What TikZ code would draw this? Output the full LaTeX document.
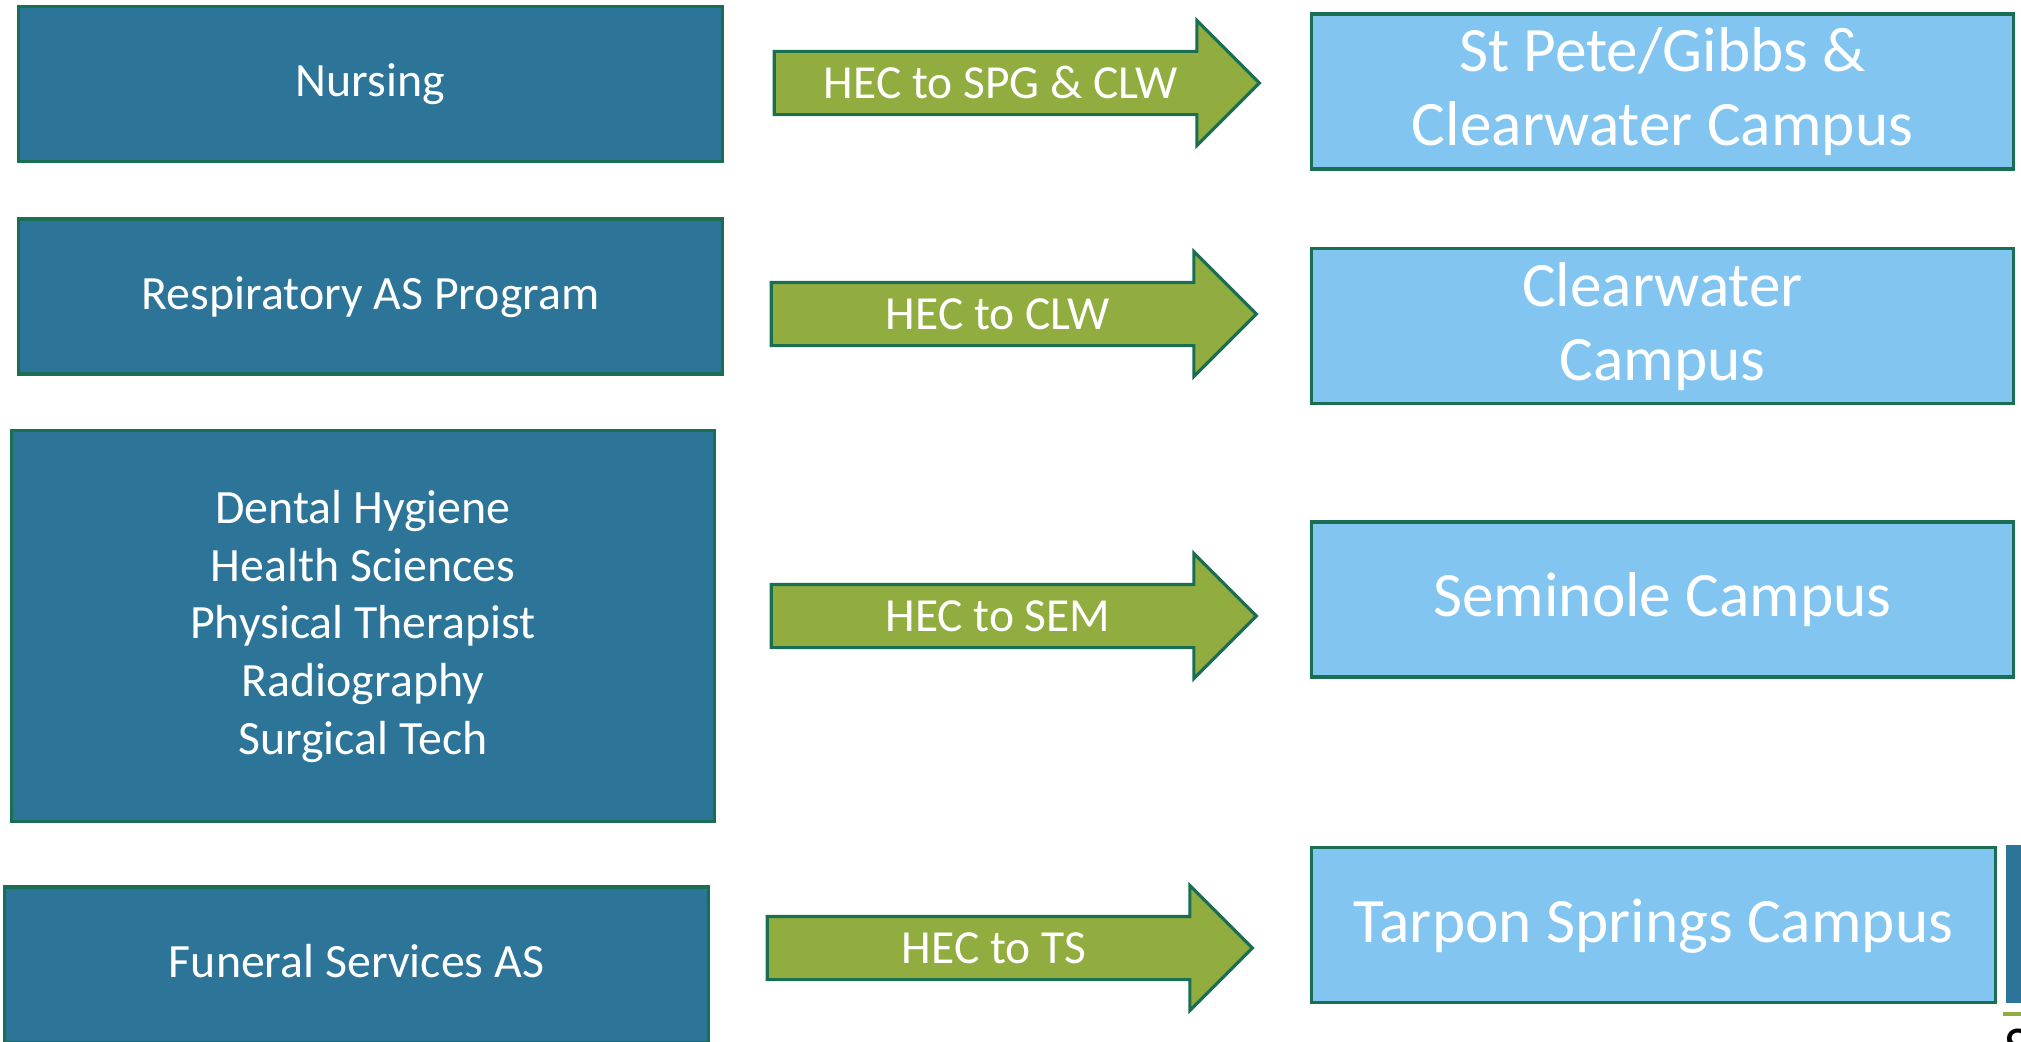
\documentclass[tikz,border=0pt]{standalone}
\usepackage{fontspec}
\setmainfont{Carlito}
\usetikzlibrary{shapes,arrows,positioning}
\definecolor{progblue}{RGB}{44,117,153}
\definecolor{campblue}{RGB}{129,197,240}
\definecolor{hecgreen}{RGB}{146,173,63}
\definecolor{edgegreen}{RGB}{26,110,82}
\newcommand{\lnstrut}{\rule[-0.18em]{0pt}{0.9em}}% hauteur de ligne fixe
\tikzset{
  boxnode/.style = {align=center, inner sep=0pt, text centered, draw=edgegreen,
    line width=0.9pt, text=white},
  prog_n/.style = {boxnode, rectangle, fill=progblue,
    font=\fontsize{13.6}{16.4}\selectfont,
    minimum width=7.03cm, minimum height=1.55cm},% programme, bleu fonce
  camp_n/.style = {boxnode, rectangle, fill=campblue,
    font=\fontsize{18}{21}\selectfont,
    minimum width=7.01cm, minimum height=1.55cm},% campus, bleu clair
  hec_a/.style = {boxnode, single arrow, fill=hecgreen,
    font=\fontsize{13.5}{16.2}\selectfont, text height=0.3cm, text depth=0cm,
    inner ysep=0.15cm, minimum height=4.85cm, minimum width=1.22cm,
    single arrow head extend=0.31cm}% fleche verte
}
\begin{document}
\begin{tikzpicture}[x=0.01cm,y=-0.01cm]
        \clip (0,0) rectangle (2021,1041);
        \node [prog_n](nurs) at (370.5,84){\lnstrut Nursing};
        \node [prog_n](resp) at (370.5,296.5){\lnstrut Respiratory AS Program};
        \node [prog_n, minimum height=3.91cm](dent) at (363,626){\lnstrut Dental Hygiene\\Health Sciences\\Physical Therapist\\Radiography\\Surgical Tech\lnstrut};
        \node [prog_n, minimum height=1.56cm](fune) at (356.5,965){\lnstrut Funeral Services AS};

        \node [hec_a](a_spg) at (1001,83){HEC to SPG \& CLW};
        \node [hec_a](a_clw) at (998,314){HEC to CLW};
        \node [hec_a](a_sem) at (998,616){HEC to SEM};
        \node [hec_a](a_ts) at (994,948){HEC to TS};

        \node [camp_n](spgc) at (1662.5,91.5){\lnstrut St Pete/Gibbs \&\\Clearwater Campus\lnstrut};
        \node [camp_n](clwc) at (1662.5,326){\lnstrut Clearwater\\Campus\lnstrut};
        \node [camp_n](semc) at (1662.5,599.5){\lnstrut Seminole Campus};
        \node [rectangle, fill=progblue, inner sep=0pt, minimum width=0.5cm,
          minimum height=1.58cm, anchor=north west](nxt) at (2005,844){};
        \node [camp_n, minimum width=6.83cm](tspc) at (1653.5,925){\lnstrut Tarpon Springs Campus};

        \draw [hecgreen, line width=0.9pt] (2003,1014) -- (2021,1014);
        \node [anchor=north west, inner sep=0pt, font=\fontsize{16}{18}\selectfont](foot) at (2004,1028){S};
\end{tikzpicture}
\end{document}
